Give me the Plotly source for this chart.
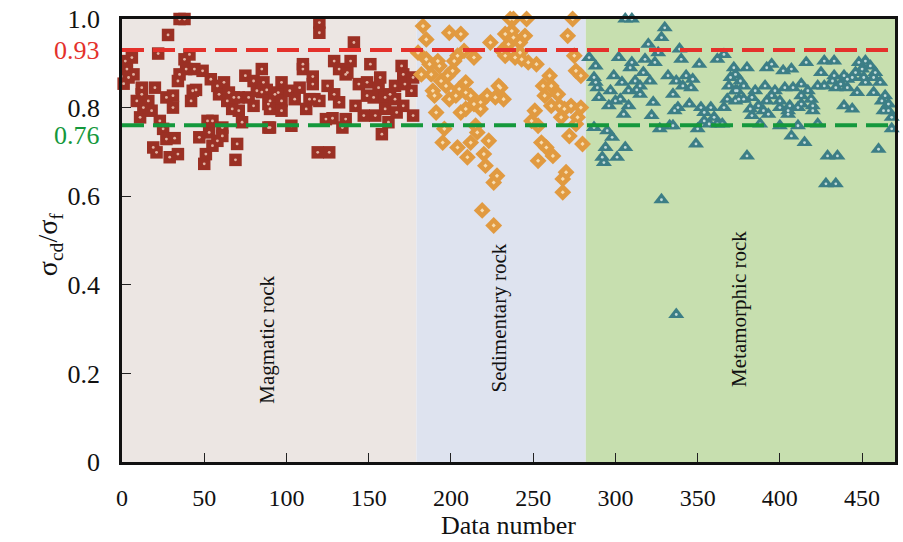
import plotly.graph_objects as go

# ---- data: sigma_cd / sigma_f ratio against data number, by rock type ----
mag_n = [1, 2, 3, 4, 6, 7, 9, 11, 12, 12, 13, 16, 18, 19, 20, 21, 22, 23, 25, 27,
         27, 28, 29, 31, 31, 32, 34, 34, 35, 35, 38, 38, 39, 41, 42, 43, 44, 45, 47, 49,
         50, 51, 52, 53, 54, 55, 55, 58, 58, 59, 61, 61, 62, 64, 65, 67, 68, 69, 70, 71,
         71, 73, 75, 77, 80, 80, 82, 85, 85, 86, 88, 89, 89, 90, 90, 90, 93, 95, 97, 97,
         97, 102, 103, 105, 108, 110, 110, 112, 114, 116, 116, 117, 119, 120, 120, 120, 124, 125, 126, 128,
         129, 129, 132, 132, 134, 136, 136, 137, 139, 141, 142, 144, 147, 149, 149, 151, 153, 154, 156, 157,
         158, 160, 160, 162, 163, 166, 166, 167, 170, 171, 171, 172, 176, 177, 177]
mag_r = [0.854, 0.905, 0.887, 0.868, 0.913, 0.875, 0.815, 0.778, 0.845, 0.830, 0.800, 0.815, 0.793, 0.710, 0.845, 0.699, 0.922, 0.770, 0.752, 0.729,
         0.823, 0.964, 0.688, 0.827, 0.800, 0.731, 0.695, 0.860, 0.875, 1.000, 1.000, 0.909, 0.887, 0.920, 0.815, 0.838, 0.887, 0.840, 0.733, 0.883,
         0.673, 0.695, 0.770, 0.744, 0.864, 0.770, 0.714, 0.849, 0.725, 0.830, 0.755, 0.736, 0.857, 0.815, 0.834, 0.797, 0.823, 0.682, 0.718, 0.793,
         0.823, 0.767, 0.872, 0.823, 0.860, 0.804, 0.838, 0.887, 0.835, 0.857, 0.840, 0.808, 0.755, 0.815, 0.797, 0.755, 0.830, 0.834, 0.857, 0.815,
         0.793, 0.838, 0.759, 0.819, 0.845, 0.898, 0.887, 0.797, 0.819, 0.870, 0.853, 0.819, 0.699, 0.992, 0.969, 0.815, 0.774, 0.849, 0.699, 0.776,
         0.905, 0.830, 0.887, 0.812, 0.755, 0.875, 0.774, 0.879, 0.905, 0.947, 0.804, 0.853, 0.782, 0.857, 0.827, 0.898, 0.823, 0.782, 0.845, 0.868,
         0.740, 0.823, 0.797, 0.767, 0.830, 0.849, 0.819, 0.789, 0.894, 0.875, 0.804, 0.853, 0.838, 0.868, 0.782]

sed_n = [180, 182, 183, 185, 185, 187, 188, 189, 190, 191, 192, 193, 194, 195, 196, 197, 198, 199, 199, 201,
         202, 203, 204, 204, 205, 206, 206, 208, 209, 209, 209, 210, 212, 212, 214, 214, 215, 216, 218, 218,
         219, 220, 221, 222, 223, 224, 226, 226, 227, 228, 229, 230, 231, 232, 233, 233, 235, 236, 237, 238,
         238, 239, 242, 242, 243, 245, 246, 247, 249, 251, 252, 253, 253, 255, 256, 257, 258, 260, 261, 261,
         262, 265, 266, 267, 268, 268, 269, 270, 271, 272, 273, 274, 275, 276, 276, 277, 279, 279, 280]
sed_r = [0.924, 0.875, 0.984, 0.954, 0.909, 0.898, 0.875, 0.838, 0.827, 0.789, 0.905, 0.894, 0.860, 0.721, 0.752, 0.849, 0.872, 0.969, 0.819, 0.883,
         0.905, 0.827, 0.710, 0.917, 0.842, 0.966, 0.789, 0.928, 0.857, 0.834, 0.797, 0.688, 0.827, 0.721, 0.913, 0.808, 0.759, 0.744, 0.812, 0.797,
         0.568, 0.695, 0.669, 0.827, 0.725, 0.947, 0.631, 0.534, 0.823, 0.646, 0.849, 0.845, 0.928, 0.819, 0.966, 0.917, 0.943, 1.000, 0.973, 1.000,
         0.958, 0.913, 0.947, 0.924, 0.909, 0.962, 1.000, 0.902, 0.770, 0.793, 0.898, 0.759, 0.680, 0.721, 0.849, 0.827, 0.710, 0.872, 0.849, 0.804,
         0.691, 0.830, 0.804, 0.778, 0.639, 0.609, 0.797, 0.654, 0.962, 0.736, 0.804, 1.000, 0.917, 0.883, 0.763, 0.778, 0.872, 0.800, 0.718]

met_n = [284, 287, 288, 288, 289, 290, 287, 292, 293, 294, 295, 296, 297, 298, 299, 300, 301, 302, 303, 304,
         305, 306, 306, 308, 308, 309, 310, 310, 312, 313, 315, 315, 317, 318, 320, 321, 322, 323, 324, 326,
         327, 328, 328, 330, 332, 333, 335, 335, 336, 337, 337, 338, 339, 340, 341, 343, 345, 346, 347, 349,
         350, 351, 352, 354, 354, 357, 358, 360, 362, 362, 365, 366, 366, 368, 369, 370, 372, 373, 373, 373,
         374, 375, 376, 378, 378, 380, 380, 382, 383, 383, 385, 387, 388, 390, 391, 392, 392, 393, 395, 395,
         397, 400, 400, 400, 402, 403, 405, 405, 406, 407, 407, 408, 411, 411, 413, 413, 413, 415, 416, 417,
         419, 420, 420, 423, 423, 425, 427, 427, 428, 429, 432, 433, 433, 434, 434, 435, 437, 439, 439, 441,
         441, 444, 444, 446, 447, 448, 450, 451, 452, 452, 455, 457, 457, 458, 460, 461, 462, 463, 464, 466,
         466, 468, 468]
met_r = [0.913, 0.868, 0.857, 0.894, 0.845, 0.823, 0.755, 0.688, 0.676, 0.710, 0.748, 0.804, 0.838, 0.733, 0.872, 0.815, 0.688, 0.913, 0.819, 0.857,
         0.785, 0.710, 1.000, 0.804, 0.838, 0.890, 1.000, 0.902, 0.860, 0.840, 0.830, 0.849, 0.879, 0.909, 0.943, 0.860, 0.782, 0.812, 0.902, 0.924,
         0.752, 0.958, 0.592, 0.980, 0.872, 0.759, 0.830, 0.759, 0.793, 0.333, 0.860, 0.800, 0.932, 0.909, 0.849, 0.872, 0.808, 0.845, 0.864, 0.718,
         0.752, 0.898, 0.800, 0.789, 0.770, 0.763, 0.800, 0.778, 0.909, 0.763, 0.763, 0.920, 0.800, 0.819, 0.849, 0.868, 0.890, 0.875, 0.838, 0.815,
         0.838, 0.819, 0.860, 0.849, 0.819, 0.890, 0.691, 0.797, 0.823, 0.782, 0.838, 0.804, 0.763, 0.793, 0.849, 0.890, 0.815, 0.785, 0.898, 0.827,
         0.838, 0.815, 0.800, 0.759, 0.883, 0.845, 0.793, 0.785, 0.804, 0.887, 0.736, 0.845, 0.800, 0.759, 0.853, 0.827, 0.808, 0.721, 0.902, 0.838,
         0.819, 0.804, 0.793, 0.849, 0.763, 0.879, 0.849, 0.905, 0.628, 0.691, 0.860, 0.905, 0.872, 0.845, 0.628, 0.691, 0.853, 0.872, 0.804, 0.864,
         0.845, 0.868, 0.797, 0.879, 0.834, 0.902, 0.887, 0.868, 0.905, 0.857, 0.894, 0.868, 0.834, 0.879, 0.706, 0.857, 0.815, 0.793, 0.827, 0.808,
         0.793, 0.778, 0.752]

# rock-type bands along the data-number axis
band_names = ["Magmatic rock", "Sedimentary rock", "Metamorphic rock"]
band_start = [0, 179, 282]
band_end = [179, 282, 470]
band_label_y = [0.275, 0.325, 0.345]

# reference levels
ref_levels = [0.93, 0.76]
ref_labels = ["0.93", "0.76"]
ref_label_y = [0.93, 0.737]

x_ticks = [0, 50, 100, 150, 200, 250, 300, 350, 400, 450]
y_ticks = [0, 0.2, 0.4, 0.6, 0.8, 1.0]
y_ticktext = ["0", "0.2", "0.4", "0.6", "0.8", "1.0"]

# ---- styling ----
SERIF = "Liberation Serif, Times New Roman, serif"
band_colors = ["#ECE6E3", "#DEE3EF", "#C7DFAF"]
ref_colors = ["#E4312B", "#14983C"]
# (x, y, outer symbol, outer colour, highlight symbol, highlight colour, outer size, highlight size)
series = [
    (mag_n, mag_r, "square", "#9B3024", "circle", "#E2B4A4", 12.5, 2.8),
    (sed_n, sed_r, "diamond", "#E19A40", "diamond", "#F7DDB2", 13, 3.2),
    (met_n, met_r, "triangle-up", "#3C7E86", "circle", "#C4DCDA", 14, 2.8),
]

fig = go.Figure()

for x0, x1, col in zip(band_start, band_end, band_colors):
    fig.add_shape(type="rect", xref="x", yref="y", x0=x0, x1=x1, y0=0, y1=1.0,
                  fillcolor=col, line_width=0, layer="below")

for lvl, col in zip(ref_levels, ref_colors):
    fig.add_shape(type="line", xref="paper", yref="y", x0=0, x1=1, y0=lvl, y1=lvl,
                  line=dict(color=col, width=4, dash="22px,9px"), layer="above")

for xs, ys, sym, col, isym, icol, size, isize in series:
    fig.add_trace(go.Scatter(x=xs, y=ys, mode="markers", cliponaxis=False,
                             marker=dict(symbol=sym, size=size, color=col, line_width=0),
                             hoverinfo="skip", showlegend=False))
    fig.add_trace(go.Scatter(x=xs, y=ys, mode="markers", cliponaxis=False,
                             marker=dict(symbol=isym, size=isize, color=icol, line_width=0),
                             hoverinfo="skip", showlegend=False))

for name, x0, x1, ly in zip(band_names, band_start, band_end, band_label_y):
    fig.add_annotation(x=(x0 + x1) / 2 - 1, y=ly, xref="x", yref="y", text=name,
                       textangle=-90, showarrow=False,
                       font=dict(family=SERIF, size=21, color="#111111"))

for lbl, ly, col in zip(ref_labels, ref_label_y, ref_colors):
    fig.add_annotation(x=-0.026, y=ly, xref="paper", yref="y", text=lbl,
                       xanchor="right", yanchor="middle", showarrow=False,
                       font=dict(family=SERIF, size=26, color=col))

fig.add_annotation(x=-0.118, y=0.49, xref="paper", yref="paper",
                   text="σ<sub>cd</sub>/σ<sub>f</sub>", textangle=-90, showarrow=False,
                   font=dict(family=SERIF, size=28, color="#111111"))

fig.update_layout(
    width=903, height=542,
    margin=dict(l=122, r=5, t=17, b=80),
    paper_bgcolor="white", plot_bgcolor="white",
    font=dict(family=SERIF, color="#111111"),
    xaxis=dict(range=[0, 470], tickvals=x_ticks, ticks="inside", ticklen=9,
               tickwidth=1.2, tickcolor="#222222", showgrid=False, zeroline=False,
               showline=True, linecolor="#111111", linewidth=2.5, mirror=True,
               ticklabelstandoff=12, tickfont=dict(family=SERIF, size=24),
               title=dict(text="Data number", font=dict(family=SERIF, size=26), standoff=4)),
    yaxis=dict(range=[0, 1.0], tickvals=y_ticks, ticktext=y_ticktext, ticks="inside",
               ticklen=9, tickwidth=1.2, tickcolor="#222222", showgrid=False,
               zeroline=False, showline=True, linecolor="#111111", linewidth=2.5,
               mirror=True, ticklabelstandoff=14, tickfont=dict(family=SERIF, size=26)),
)

fig.write_html("out.html")
